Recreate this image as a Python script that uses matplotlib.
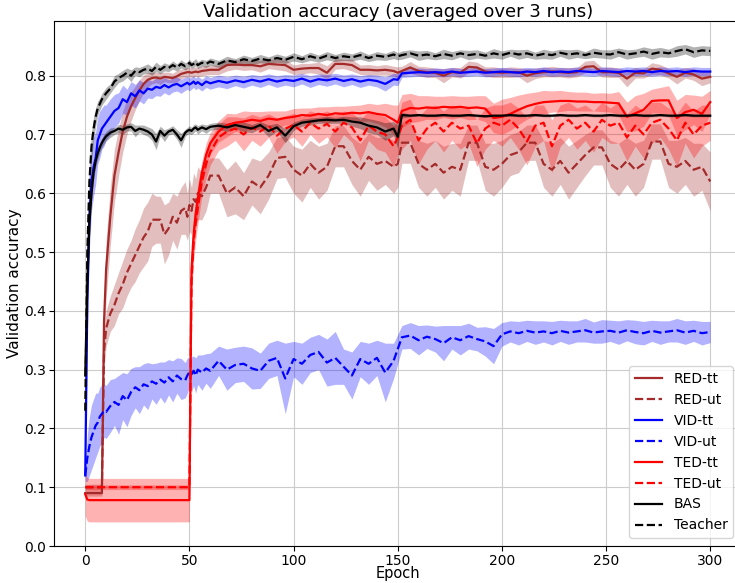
import matplotlib
matplotlib.use("Agg")
import matplotlib.pyplot as plt
import numpy as np

epochs = (list(range(0, 11)) + list(range(12, 49, 2)) + [49, 50, 51, 52, 53, 54, 56, 58, 60]
          + list(range(64, 149, 4)) + [150] + list(range(152, 301, 4)))

red_tt_mean = [0.09, 0.09, 0.09, 0.09, 0.09, 0.09, 0.09, 0.09, 0.09, 0.38, 0.47,
               0.56, 0.63, 0.67, 0.705, 0.73, 0.748, 0.762, 0.775, 0.786, 0.793, 0.796, 0.797, 0.795, 0.798, 0.797, 0.796, 0.799, 0.803, 0.805,
               0.806, 0.806, 0.805, 0.806, 0.807, 0.806, 0.808, 0.809, 0.81,
               0.81, 0.818, 0.819, 0.818, 0.818, 0.816, 0.82, 0.819, 0.818, 0.81, 0.812, 0.813, 0.813, 0.805, 0.82, 0.82, 0.818, 0.81, 0.81, 0.809, 0.81, 0.808,
               0.805,
               0.808, 0.814, 0.808, 0.806, 0.805, 0.8, 0.806, 0.805, 0.815, 0.814, 0.807, 0.806, 0.805, 0.806, 0.806, 0.8, 0.804, 0.806, 0.807, 0.806, 0.805, 0.806, 0.815, 0.816, 0.806, 0.806, 0.805, 0.795, 0.805, 0.804, 0.812, 0.81, 0.804, 0.798, 0.805, 0.802, 0.795, 0.798]
red_tt_std = [0.005, 0.005, 0.005, 0.005, 0.005, 0.005, 0.005, 0.005, 0.005, 0.04, 0.05,
              0.05, 0.045, 0.04, 0.035, 0.03, 0.025, 0.02, 0.018, 0.015, 0.012, 0.01, 0.009, 0.01, 0.008, 0.009, 0.008, 0.01, 0.008, 0.008,
              0.008, 0.008, 0.008, 0.008, 0.008, 0.008, 0.008, 0.008, 0.008,
              0.008, 0.01, 0.008, 0.009, 0.008, 0.01, 0.008, 0.009, 0.01, 0.008, 0.009, 0.008, 0.01, 0.012, 0.009, 0.008, 0.01, 0.008, 0.009, 0.008, 0.009, 0.008,
              0.01,
              0.008, 0.01, 0.008, 0.009, 0.008, 0.012, 0.008, 0.009, 0.01, 0.009, 0.008, 0.009, 0.008, 0.009, 0.008, 0.012, 0.009, 0.008, 0.009, 0.008, 0.009, 0.008, 0.01, 0.01, 0.008, 0.009, 0.008, 0.014, 0.009, 0.008, 0.01, 0.009, 0.008, 0.012, 0.009, 0.01, 0.012, 0.01]

red_ut_mean = [0.1, 0.1, 0.1, 0.1, 0.1, 0.1, 0.1, 0.1, 0.1, 0.33, 0.37,
               0.395, 0.41, 0.43, 0.445, 0.465, 0.48, 0.495, 0.51, 0.525, 0.535, 0.555, 0.555, 0.555, 0.53, 0.54, 0.56, 0.55, 0.57, 0.575,
               0.56, 0.58, 0.57, 0.59, 0.585, 0.6, 0.595, 0.61, 0.63,
               0.63, 0.6, 0.61, 0.595, 0.62, 0.61, 0.63, 0.66, 0.662, 0.64, 0.63, 0.65, 0.635, 0.645, 0.68, 0.68, 0.655, 0.64, 0.662, 0.65, 0.655, 0.645,
               0.65,
               0.686, 0.686, 0.65, 0.64, 0.65, 0.635, 0.645, 0.64, 0.686, 0.686, 0.645, 0.64, 0.65, 0.665, 0.67, 0.686, 0.686, 0.65, 0.64, 0.655, 0.635, 0.65, 0.665, 0.678, 0.678, 0.65, 0.64, 0.655, 0.64, 0.65, 0.688, 0.688, 0.65, 0.645, 0.655, 0.64, 0.645, 0.62]
red_ut_std = [0.005, 0.005, 0.005, 0.005, 0.005, 0.005, 0.005, 0.005, 0.005, 0.03, 0.03,
              0.03, 0.035, 0.035, 0.04, 0.04, 0.04, 0.045, 0.045, 0.05, 0.05, 0.045, 0.04, 0.04, 0.05, 0.045, 0.04, 0.045, 0.04, 0.045,
              0.04, 0.045, 0.04, 0.045, 0.04, 0.045, 0.04, 0.04, 0.03,
              0.03, 0.04, 0.045, 0.04, 0.04, 0.045, 0.04, 0.035, 0.035, 0.04, 0.045, 0.04, 0.045, 0.04, 0.035, 0.035, 0.04, 0.045, 0.04, 0.045, 0.04, 0.045,
              0.04,
              0.035, 0.035, 0.04, 0.045, 0.04, 0.045, 0.04, 0.045, 0.03, 0.03, 0.04, 0.045, 0.04, 0.035, 0.035, 0.03, 0.03, 0.04, 0.045, 0.04, 0.045, 0.04, 0.035, 0.03, 0.03, 0.04, 0.045, 0.04, 0.045, 0.04, 0.03, 0.03, 0.04, 0.045, 0.04, 0.045, 0.04, 0.05]

vid_tt_mean = [0.12, 0.42, 0.56, 0.62, 0.645, 0.66, 0.69, 0.7, 0.71, 0.715, 0.72,
               0.73, 0.74, 0.745, 0.76, 0.755, 0.77, 0.765, 0.775, 0.77, 0.778, 0.776, 0.781, 0.779, 0.784, 0.78, 0.784, 0.786, 0.782, 0.786,
               0.788, 0.785, 0.787, 0.79, 0.786, 0.789, 0.784, 0.79, 0.787,
               0.791, 0.788, 0.792, 0.789, 0.793, 0.79, 0.794, 0.79, 0.793, 0.791, 0.795, 0.79, 0.794, 0.792, 0.795, 0.791, 0.794, 0.79, 0.793, 0.791, 0.786, 0.794,
               0.793,
               0.804, 0.805, 0.806, 0.805, 0.806, 0.805, 0.807, 0.805, 0.806, 0.807, 0.805, 0.806, 0.807, 0.806, 0.805, 0.807, 0.806, 0.808, 0.806, 0.807, 0.806, 0.808, 0.807, 0.806, 0.808, 0.807, 0.806, 0.808, 0.807, 0.808, 0.806, 0.808, 0.807, 0.808, 0.806, 0.808, 0.807, 0.807]
vid_tt_std = [0.01, 0.06, 0.055, 0.05, 0.05, 0.045, 0.04, 0.04, 0.035, 0.035, 0.03,
              0.03, 0.028, 0.026, 0.024, 0.022, 0.02, 0.02, 0.018, 0.018, 0.016, 0.015, 0.015, 0.014, 0.013, 0.013, 0.012, 0.012, 0.012, 0.011,
              0.011, 0.011, 0.01, 0.01, 0.01, 0.01, 0.01, 0.01, 0.01,
              0.01, 0.01, 0.009, 0.01, 0.009, 0.01, 0.009, 0.01, 0.009, 0.01, 0.009, 0.01, 0.009, 0.01, 0.009, 0.01, 0.009, 0.01, 0.009, 0.01, 0.012, 0.01,
              0.01,
              0.007, 0.007, 0.007, 0.007, 0.007, 0.007, 0.007, 0.007, 0.007, 0.007, 0.007, 0.007, 0.007, 0.007, 0.007, 0.007, 0.007, 0.007, 0.007, 0.007, 0.007, 0.007, 0.007, 0.007, 0.007, 0.007, 0.007, 0.007, 0.007, 0.007, 0.007, 0.007, 0.007, 0.007, 0.007, 0.007, 0.007, 0.007]

vid_ut_mean = [0.12, 0.15, 0.17, 0.185, 0.195, 0.205, 0.21, 0.22, 0.225, 0.23, 0.228,
               0.238, 0.245, 0.24, 0.255, 0.248, 0.262, 0.27, 0.265, 0.275, 0.272, 0.28, 0.276, 0.283, 0.278, 0.287, 0.28, 0.29, 0.284, 0.282,
               0.29, 0.296, 0.292, 0.298, 0.29, 0.3, 0.295, 0.302, 0.298,
               0.315, 0.3, 0.308, 0.31, 0.302, 0.298, 0.315, 0.32, 0.285, 0.318, 0.31, 0.325, 0.33, 0.312, 0.32, 0.305, 0.29, 0.318, 0.31, 0.32, 0.295, 0.315,
               0.335,
               0.355, 0.358, 0.35, 0.356, 0.352, 0.345, 0.355, 0.35, 0.357, 0.352, 0.348, 0.34, 0.36, 0.365, 0.362, 0.366, 0.363, 0.365, 0.362, 0.366, 0.363, 0.365, 0.367, 0.363, 0.365, 0.366, 0.363, 0.367, 0.364, 0.362, 0.366, 0.363, 0.365, 0.367, 0.363, 0.366, 0.362, 0.364]
vid_ut_std = [0.01, 0.04, 0.05, 0.055, 0.055, 0.055, 0.05, 0.05, 0.05, 0.045, 0.045,
              0.045, 0.04, 0.05, 0.04, 0.045, 0.04, 0.035, 0.04, 0.035, 0.04, 0.03, 0.035, 0.03, 0.035, 0.03, 0.035, 0.03, 0.035, 0.03,
              0.03, 0.025, 0.03, 0.025, 0.03, 0.025, 0.03, 0.025, 0.03,
              0.025, 0.035, 0.03, 0.03, 0.035, 0.03, 0.03, 0.03, 0.06, 0.03, 0.035, 0.03, 0.03, 0.04, 0.045, 0.03, 0.04, 0.03, 0.035, 0.03, 0.05, 0.03,
              0.025,
              0.02, 0.022, 0.025, 0.02, 0.022, 0.03, 0.02, 0.025, 0.022, 0.02, 0.025, 0.03, 0.02, 0.018, 0.02, 0.018, 0.02, 0.018, 0.02, 0.018, 0.02, 0.018, 0.02, 0.018, 0.02, 0.018, 0.02, 0.018, 0.02, 0.02, 0.018, 0.02, 0.018, 0.02, 0.02, 0.018, 0.02, 0.018]

ted_tt_mean = [0.088, 0.079, 0.078, 0.078, 0.078, 0.078, 0.078, 0.078, 0.078, 0.078, 0.078,
               0.078, 0.078, 0.078, 0.078, 0.078, 0.078, 0.078, 0.078, 0.078, 0.078, 0.078, 0.078, 0.078, 0.078, 0.078, 0.078, 0.078, 0.078, 0.078,
               0.078, 0.078, 0.47, 0.53, 0.565, 0.59, 0.635, 0.665, 0.685,
               0.705, 0.716, 0.72, 0.722, 0.725, 0.723, 0.727, 0.725, 0.728, 0.73, 0.733, 0.732, 0.735, 0.733, 0.736, 0.735, 0.737, 0.736, 0.738, 0.735, 0.733, 0.725,
               0.72,
               0.74, 0.745, 0.744, 0.746, 0.745, 0.747, 0.746, 0.747, 0.745, 0.746, 0.744, 0.728, 0.73, 0.735, 0.742, 0.748, 0.752, 0.755, 0.756, 0.757, 0.757, 0.756, 0.756, 0.755, 0.755, 0.754, 0.753, 0.73, 0.736, 0.742, 0.757, 0.758, 0.758, 0.728, 0.738, 0.742, 0.735, 0.755]
ted_tt_std = [0.037, 0.037, 0.037, 0.037, 0.037, 0.037, 0.037, 0.037, 0.037, 0.037, 0.037,
              0.037, 0.037, 0.037, 0.037, 0.037, 0.037, 0.037, 0.037, 0.037, 0.037, 0.037, 0.037, 0.037, 0.037, 0.037, 0.037, 0.037, 0.037, 0.037,
              0.037, 0.037, 0.03, 0.03, 0.025, 0.025, 0.02, 0.02, 0.018,
              0.018, 0.02, 0.015, 0.018, 0.014, 0.016, 0.013, 0.015, 0.012, 0.014, 0.012, 0.013, 0.012, 0.014, 0.012, 0.013, 0.012, 0.014, 0.015, 0.016, 0.02, 0.025,
              0.03,
              0.028, 0.025, 0.022, 0.02, 0.02, 0.018, 0.02, 0.018, 0.02, 0.02, 0.022, 0.025, 0.03, 0.028, 0.025, 0.022, 0.02, 0.02, 0.018, 0.018, 0.016, 0.016, 0.016, 0.015, 0.016, 0.016, 0.02, 0.025, 0.03, 0.028, 0.02, 0.022, 0.025, 0.03, 0.03, 0.025, 0.03, 0.02]

ted_ut_mean = [0.1, 0.1, 0.1, 0.1, 0.1, 0.1, 0.1, 0.1, 0.1, 0.1, 0.1,
               0.1, 0.1, 0.1, 0.1, 0.1, 0.1, 0.1, 0.1, 0.1, 0.1, 0.1, 0.1, 0.1, 0.1, 0.1, 0.1, 0.1, 0.1, 0.1,
               0.1, 0.1, 0.45, 0.515, 0.55, 0.575, 0.62, 0.65, 0.67,
               0.695, 0.705, 0.71, 0.7, 0.712, 0.705, 0.715, 0.698, 0.71, 0.716, 0.705, 0.72, 0.71, 0.718, 0.705, 0.72, 0.712, 0.69, 0.715, 0.705, 0.7, 0.68,
               0.695,
               0.715, 0.725, 0.69, 0.71, 0.72, 0.705, 0.72, 0.71, 0.715, 0.685, 0.71, 0.72, 0.715, 0.725, 0.71, 0.688, 0.715, 0.72, 0.68, 0.715, 0.725, 0.71, 0.72, 0.705, 0.725, 0.715, 0.72, 0.695, 0.715, 0.7, 0.72, 0.725, 0.71, 0.69, 0.72, 0.7, 0.715, 0.72]
ted_ut_std = [0.004, 0.004, 0.004, 0.004, 0.004, 0.004, 0.004, 0.004, 0.004, 0.004, 0.004,
              0.004, 0.004, 0.004, 0.004, 0.004, 0.004, 0.004, 0.004, 0.004, 0.004, 0.004, 0.004, 0.004, 0.004, 0.004, 0.004, 0.004, 0.004, 0.004,
              0.004, 0.004, 0.03, 0.03, 0.03, 0.028, 0.025, 0.025, 0.022,
              0.022, 0.025, 0.02, 0.028, 0.022, 0.025, 0.02, 0.03, 0.022, 0.02, 0.025, 0.02, 0.025, 0.022, 0.028, 0.02, 0.025, 0.035, 0.025, 0.03, 0.03, 0.035,
              0.03,
              0.04, 0.035, 0.04, 0.035, 0.03, 0.035, 0.03, 0.035, 0.03, 0.04, 0.035, 0.03, 0.035, 0.03, 0.035, 0.04, 0.035, 0.03, 0.045, 0.035, 0.03, 0.035, 0.03, 0.035, 0.03, 0.03, 0.035, 0.04, 0.035, 0.04, 0.035, 0.03, 0.035, 0.045, 0.035, 0.04, 0.035, 0.03]

bas_mean = [0.29, 0.45, 0.55, 0.6, 0.635, 0.655, 0.668, 0.678, 0.686, 0.692, 0.697,
            0.703, 0.706, 0.71, 0.708, 0.712, 0.713, 0.706, 0.71, 0.708, 0.705, 0.7, 0.688, 0.706, 0.698, 0.705, 0.708, 0.7, 0.69, 0.703,
            0.706, 0.708, 0.706, 0.71, 0.712, 0.708, 0.712, 0.709, 0.713,
            0.715, 0.712, 0.716, 0.713, 0.71, 0.716, 0.706, 0.712, 0.698, 0.714, 0.72, 0.722, 0.724, 0.725, 0.724, 0.725, 0.722, 0.72, 0.715, 0.712, 0.705, 0.71,
            0.696,
            0.733, 0.732, 0.733, 0.732, 0.732, 0.733, 0.732, 0.732, 0.733, 0.732, 0.731, 0.732, 0.732, 0.733, 0.732, 0.732, 0.733, 0.732, 0.732, 0.733, 0.732, 0.732, 0.733, 0.732, 0.732, 0.733, 0.732, 0.732, 0.733, 0.732, 0.732, 0.733, 0.732, 0.732, 0.733, 0.732, 0.732, 0.732]
bas_std = [0.02, 0.02, 0.02, 0.015, 0.012, 0.01, 0.01, 0.008, 0.008, 0.008, 0.008,
           0.008, 0.006, 0.007, 0.008, 0.006, 0.007, 0.01, 0.006, 0.008, 0.008, 0.01, 0.014, 0.008, 0.01, 0.006, 0.007, 0.008, 0.012, 0.006,
           0.006, 0.007, 0.006, 0.007, 0.006, 0.007, 0.006, 0.007, 0.006,
           0.006, 0.007, 0.006, 0.008, 0.007, 0.006, 0.01, 0.007, 0.012, 0.007, 0.006, 0.006, 0.005, 0.006, 0.005, 0.006, 0.008, 0.01, 0.012, 0.012, 0.015, 0.012,
           0.02,
           0.005, 0.002, 0.002, 0.002, 0.002, 0.002, 0.002, 0.002, 0.002, 0.002, 0.002, 0.002, 0.002, 0.002, 0.002, 0.002, 0.002, 0.002, 0.002, 0.002, 0.002, 0.002, 0.002, 0.002, 0.002, 0.002, 0.002, 0.002, 0.002, 0.002, 0.002, 0.002, 0.002, 0.002, 0.002, 0.002, 0.002, 0.002]

teacher_mean = [0.23, 0.5, 0.62, 0.68, 0.71, 0.73, 0.745, 0.752, 0.76, 0.765, 0.77,
                0.778, 0.79, 0.796, 0.8, 0.805, 0.8, 0.808, 0.806, 0.81, 0.812, 0.808, 0.815, 0.81, 0.815, 0.813, 0.818, 0.814, 0.82, 0.816,
                0.818, 0.822, 0.818, 0.82, 0.823, 0.818, 0.822, 0.82, 0.824,
                0.82, 0.826, 0.823, 0.828, 0.825, 0.829, 0.826, 0.83, 0.827, 0.832, 0.828, 0.833, 0.829, 0.834, 0.83, 0.833, 0.831, 0.835, 0.83, 0.834, 0.832, 0.836,
                0.833,
                0.835, 0.838, 0.834, 0.836, 0.833, 0.837, 0.834, 0.838, 0.835, 0.837, 0.834, 0.838, 0.835, 0.839, 0.836, 0.838, 0.834, 0.837, 0.835, 0.839, 0.836, 0.838, 0.835, 0.839, 0.837, 0.836, 0.84, 0.836, 0.838, 0.841, 0.837, 0.84, 0.838, 0.842, 0.845, 0.84, 0.843, 0.842]
teacher_std = [0.03, 0.04, 0.03, 0.025, 0.02, 0.015, 0.012, 0.01, 0.01, 0.01, 0.01,
               0.008, 0.01, 0.008, 0.009, 0.008, 0.01, 0.007, 0.008, 0.007, 0.008, 0.007, 0.008, 0.007, 0.007, 0.006, 0.007, 0.006, 0.007, 0.006,
               0.006, 0.006, 0.006, 0.006, 0.006, 0.006, 0.006, 0.006, 0.006,
               0.006, 0.007, 0.006, 0.007, 0.006, 0.007, 0.006, 0.007, 0.006, 0.007, 0.006, 0.007, 0.006, 0.007, 0.006, 0.007, 0.006, 0.007, 0.006, 0.007, 0.006, 0.007,
               0.006,
               0.007, 0.006, 0.008, 0.007, 0.006, 0.008, 0.007, 0.006, 0.008, 0.007, 0.006, 0.008, 0.007, 0.006, 0.008, 0.007, 0.006, 0.008, 0.007, 0.006, 0.008, 0.007, 0.006, 0.008, 0.007, 0.008, 0.007, 0.008, 0.007, 0.008, 0.009, 0.008, 0.007, 0.009, 0.008, 0.009, 0.008, 0.008]

series = [
    ("RED-tt", red_tt_mean, red_tt_std, "brown", "-"),
    ("RED-ut", red_ut_mean, red_ut_std, "brown", "--"),
    ("VID-tt", vid_tt_mean, vid_tt_std, "blue", "-"),
    ("VID-ut", vid_ut_mean, vid_ut_std, "blue", "--"),
    ("TED-tt", ted_tt_mean, ted_tt_std, "red", "-"),
    ("TED-ut", ted_ut_mean, ted_ut_std, "red", "--"),
    ("BAS", bas_mean, bas_std, "black", "-"),
    ("Teacher", teacher_mean, teacher_std, "black", "--"),
]

W, H = 735, 583
fig = plt.figure(figsize=(W / 100, H / 100), dpi=100)
ax = fig.add_axes([54 / W, 37 / H, 687.5 / W, 525 / H])

x = np.array(epochs)
for name, m, s, c, ls in series:
    assert len(m) == len(x) and len(s) == len(x), name
    m = np.array(m)
    s = np.array(s)
    ax.fill_between(x, m - s, m + s, color=c, alpha=0.3, linewidth=0)
    ax.plot(x, m, color=c, linestyle=ls, linewidth=1.6, label=name)

ax.set_xlim(-15, 315)
ax.set_ylim(0.0, 0.893)
ax.set_xticks([0, 50, 100, 150, 200, 250, 300])
ax.set_yticks([0.0, 0.1, 0.2, 0.3, 0.4, 0.5, 0.6, 0.7, 0.8])
ax.tick_params(labelsize=10, pad=2)
ax.grid(True, color="#cccccc", linewidth=0.8)
ax.set_axisbelow(True)
ax.set_xlabel("Epoch", fontsize=10.5, labelpad=-1)
ax.set_ylabel("Validation accuracy", fontsize=11, labelpad=2)
ax.set_title("Validation accuracy (averaged over 3 runs)", fontsize=13, pad=2)

leg = ax.legend(loc="lower right", bbox_to_anchor=(733 / W, 45 / H),
                bbox_transform=fig.transFigure, borderaxespad=0, fontsize=10)

fig.savefig("out.png", dpi=100)
